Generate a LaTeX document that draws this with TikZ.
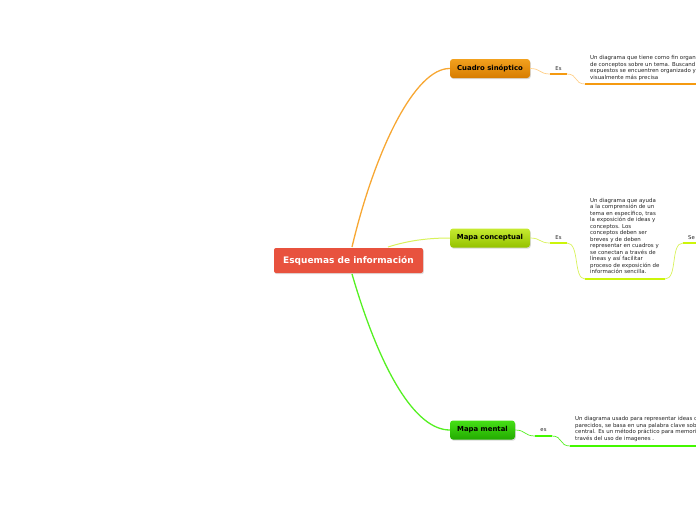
\documentclass[tikz,border=0pt]{standalone}
\usepackage{fontspec}
\setmainfont{DejaVu Sans}
\usetikzlibrary{shadows}
\definecolor{cred}{HTML}{E8523E}
\definecolor{orT}{HTML}{F2A11E}
\definecolor{orB}{HTML}{D77C00}
\definecolor{orLine}{HTML}{F7A733}
\definecolor{orLight}{HTML}{FFD08A}
\definecolor{orThick}{HTML}{F59A10}
\definecolor{ygT}{HTML}{C6EA30}
\definecolor{ygB}{HTML}{94C200}
\definecolor{ygLine}{HTML}{D8F25A}
\definecolor{ygThick}{HTML}{CCF50A}
\definecolor{grT}{HTML}{46E016}
\definecolor{grB}{HTML}{22AA00}
\definecolor{grLine}{HTML}{55F022}
\definecolor{grThick}{HTML}{44F800}
\definecolor{txt}{HTML}{222222}
\tikzset{
  topic/.style={rounded corners=3pt, minimum height=19pt, inner xsep=5pt,
    font=\fontsize{6.9}{8}\selectfont\bfseries, text=black,
    drop shadow={shadow xshift=0.8pt, shadow yshift=-1.2pt, opacity=0.3}},
  central/.style={rounded corners=2pt, fill=cred, minimum width=149pt, minimum height=25pt,
    font=\fontsize{9}{10}\selectfont\bfseries, text=white,
    drop shadow={shadow xshift=0.8pt, shadow yshift=-1.2pt, opacity=0.25}},
  lbl/.style={font=\fontsize{5.3}{6}\selectfont, text=txt, inner sep=0pt},
  para/.style={font=\fontsize{5.45}{6.5}\selectfont, text=txt, align=left, anchor=north west, inner sep=0pt},
}
\begin{document}
\begin{tikzpicture}[x=1pt,y=-1pt]
\useasboundingbox (0,0) rectangle (696,520);

% central
\node[central] (c) at (348.5,260.5) {Esquemas de información};

% topic nodes
\node[topic, minimum width=80pt, top color=orT, bottom color=orB] (t1) at (490,68.5) {Cuadro sinóptico};
\node[topic, minimum width=80pt, top color=ygT, bottom color=ygB] (t2) at (490,238) {Mapa conceptual};
\node[topic, minimum width=65pt, top color=grT, bottom color=grB] (t3) at (482.5,430) {Mapa mental};

% main connectors
\coordinate (c1) at (352,247);
\coordinate (c2) at (388,247);
\coordinate (c3) at (352,274);
\draw[orLine, line width=1.3pt] (c1) .. controls (375,150) and (415,68) .. (t1.west);
\draw[ygLine, line width=1pt] (c2) .. controls (410,240) and (430,238) .. (t2.west);
\draw[grLine, line width=1.3pt] (c3) .. controls (380,370) and (415,430) .. (t3.west);

% ---- Cuadro sinoptico branch
\node[lbl] (e1) at (558.5,68.5) {Es};
\coordinate (e1a) at (550,74);
\coordinate (e1b) at (567,74);
\coordinate (p1a) at (585,84);
\coordinate (p1b) at (700,84);
\draw[orLight, line width=0.7pt] (t1.east) .. controls (541,68.5) and (539,74) .. (e1a);
\draw[orThick, line width=2.2pt] (e1a) -- (e1b);
\draw[orLight, line width=0.7pt] (e1b) .. controls (578,74) and (574,84) .. (p1a);
\draw[orThick, line width=2.2pt] (p1a) -- (p1b);
\node[para] (d1) at (590,55.5) {Un diagrama que tiene como fin organ\\de conceptos sobre un tema. Buscand\\expuestos se encuentren organizado y\\visualmente más precisa};

% ---- Mapa conceptual branch
\node[lbl] (e2) at (558.5,237.5) {Es};
\coordinate (e2a) at (550,243);
\coordinate (e2b) at (567,243);
\coordinate (p2a) at (585,279);
\coordinate (p2b) at (665,279);
\coordinate (s2a) at (683,243);
\coordinate (s2b) at (700,243);
\draw[ygLine, line width=0.7pt] (t2.east) .. controls (541,238) and (539,243) .. (e2a);
\draw[ygThick, line width=2.2pt] (e2a) -- (e2b);
\draw[ygLine, line width=0.7pt] (e2b) .. controls (580,243) and (573,279) .. (p2a);
\draw[ygThick, line width=2.2pt] (p2a) -- (p2b);
\draw[ygLine, line width=0.7pt] (p2b) .. controls (678,279) and (670,243) .. (s2a);
\draw[ygThick, line width=2.2pt] (s2a) -- (s2b);
\node[para] (d2) at (590,198) {Un diagrama que ayuda\\a la comprensión de un\\tema en específico, tras\\la exposición de ideas y\\conceptos. Los\\conceptos deben ser\\breves y de deben\\representar en cuadros y\\se conectan a través de\\líneas y así facilitar\\proceso de exposición de\\información sencilla.};
\node[lbl, anchor=west] (se) at (688,237.5) {Se};

% ---- Mapa mental branch
\node[lbl] (e3) at (543.5,430) {es};
\coordinate (e3a) at (535,436);
\coordinate (e3b) at (552,436);
\coordinate (p3a) at (570,446);
\coordinate (p3b) at (700,446);
\draw[grLine, line width=0.7pt] (t3.east) .. controls (526,430) and (524,436) .. (e3a);
\draw[grThick, line width=2.2pt] (e3a) -- (e3b);
\draw[grLine, line width=0.7pt] (e3b) .. controls (563,436) and (559,446) .. (p3a);
\draw[grThick, line width=2.2pt] (p3a) -- (p3b);
\node[para] (d3) at (575,416.5) {Un diagrama usado para representar ideas c\\parecidos, se basa en una palabra clave sob\\central. Es un método práctico para memori\\través del uso de imagenes .};
\end{tikzpicture}
\end{document}
